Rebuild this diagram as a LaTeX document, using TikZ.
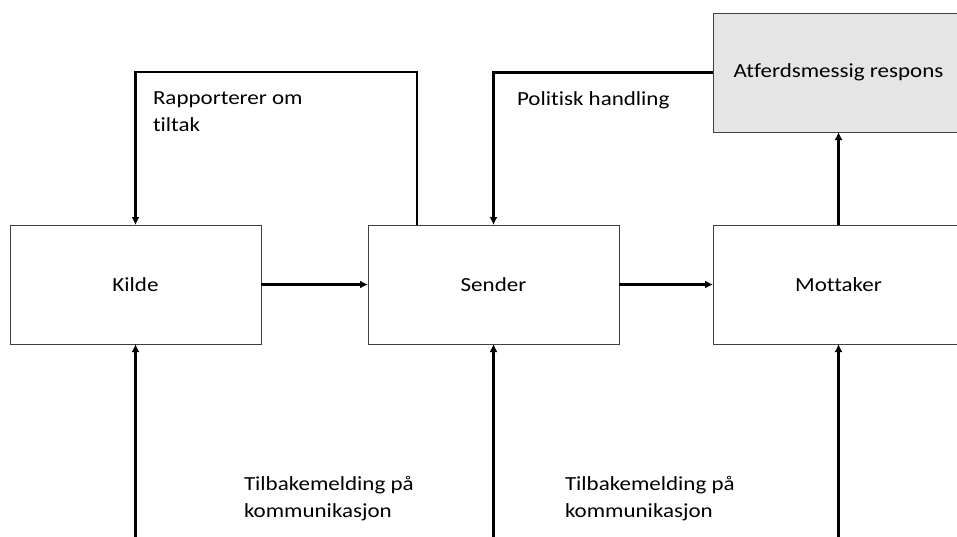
\documentclass[tikz,border=0pt]{standalone}
\usepackage{fontspec}
\setmainfont{Carlito}[FakeStretch=1.15,Ligatures=NoCommon]
\usetikzlibrary{positioning,arrows.meta}

\begin{document}
\begin{tikzpicture}[x=1pt,y=-1pt,every node/.style={outer sep=0pt},
 font=\fontsize{20}{27}\selectfont,
 block/.style={draw=black!75,line width=0.9pt,minimum width=251pt,minimum height=119pt},
 flow/.style={line width=2.6pt,-{Latex[length=8pt,width=8pt]}},
 label/.style={inner sep=0pt,align=left,anchor=north west}]

  \useasboundingbox (0,0) rectangle (957,536);

  \node[block] (kilde) at (135.5,284.5) {Kilde};
  \node[block,right=107pt of kilde] (sender) {Sender};
  \node[block,right=94pt of sender] (mottaker) {Mottaker};
  \node[block,fill=black!10,above=93pt of mottaker] (respons) {Atferdsmessig respons};

  \coordinate (top) at (0,72);
  \coordinate (bot) at (0,545);

  \draw[flow] (kilde) -- (sender);
  \draw[flow] (sender) -- (mottaker);
  \draw[flow] (mottaker) -- (respons);

  \draw[flow] ([xshift=49pt]sender.north west) coordinate (aux)
   |- (kilde.north|-top) -- (kilde.north);
  \draw[flow] (respons.west) -| (sender.north);

  \node[label] (rapport) at (153,92) {Rapporterer om\\tiltak};
  \node[label] (politisk) at (517,92) {Politisk handling};

  \foreach \X in {kilde,sender,mottaker}
  {\draw[flow] (\X.south|-bot) -- (\X.south);}

  \node[label] (tilbake1) at (244,476) {Tilbakemelding på\\kommunikasjon};
  \node[label] (tilbake2) at (565,476) {Tilbakemelding på\\kommunikasjon};

\end{tikzpicture}
\end{document}
